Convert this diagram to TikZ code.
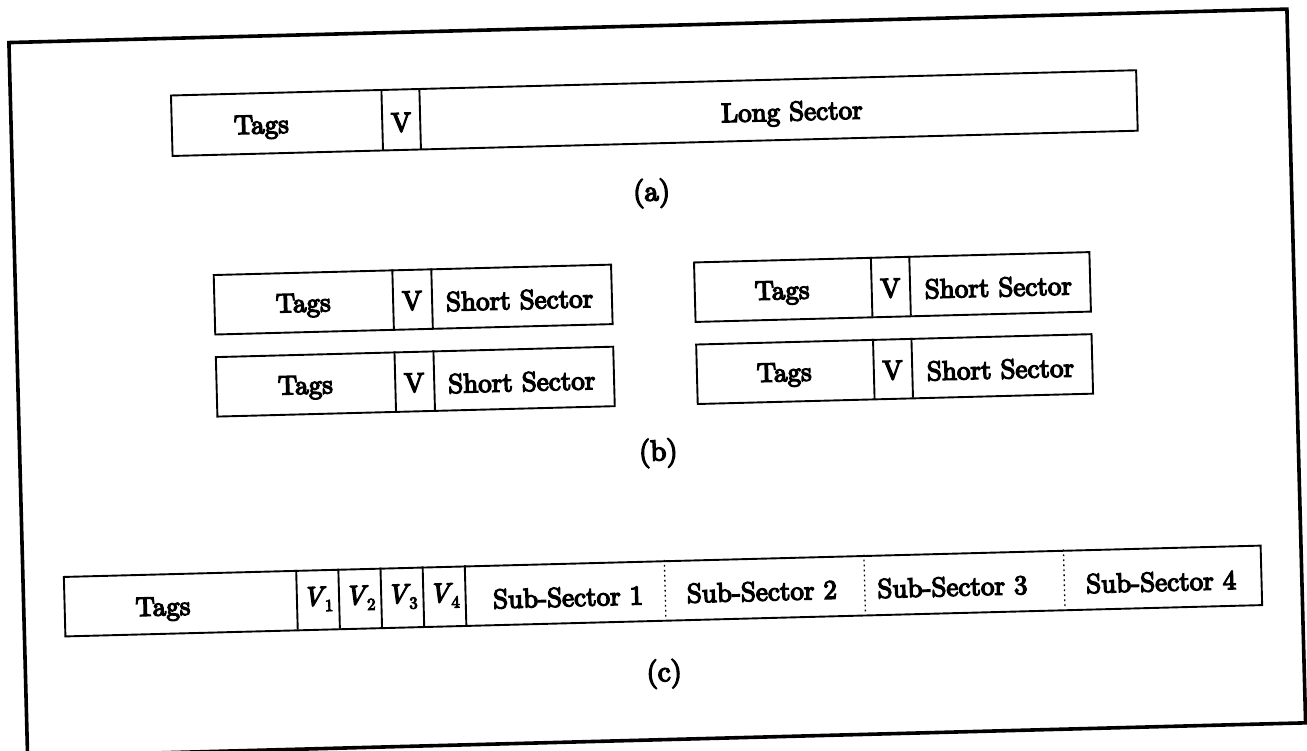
\documentclass[tikz,border=0pt]{standalone}
\usepackage{fontspec}
\setmainfont{lmroman10-regular.otf}[FakeBold=5,ItalicFont=lmroman10-italic.otf,ItalicFeatures={FakeBold=5}]
\newcommand{\vsub}[1]{\textit{V}\kern-1.5pt\raisebox{-6pt}{\fontsize{17}{20}\selectfont #1}}
\tikzset{
  outerframe/.style={draw, line width=3.6pt, inner sep=0pt, anchor=north west},
  cellbox/.style={draw, line width=1.9pt, inner sep=0pt, anchor=north west},
  cellvoid/.style={inner sep=0pt, anchor=north west},
  divider/.style={line width=1.9pt},
  subline/.style={line width=1.3pt, dash pattern=on 1.6pt off 3.4pt},
  txt/.style={inner sep=0pt, font=\fontsize{27}{32}\selectfont},
  capt/.style={inner sep=0pt, font=\fontsize{29}{34}\selectfont},
}
\begin{document}
\begin{tikzpicture}[x=1pt,y=-1pt]
\useasboundingbox (0,0) rectangle (1307,750);
\clip (0,0) rectangle (1307,750);
\begin{scope}[rotate around={1.5:(653.5,375)}, transform shape]
% frame
\node[outerframe, minimum width=1278.5pt, minimum height=714pt] (frame) at (16,24) {};

% ---------- (a)
\node[cellbox, minimum width=965.5pt, minimum height=60.5pt] (boxA) at (177.5,82) {};
\node[cellvoid, minimum width=211.1pt, minimum height=60.5pt] (tagsA) at (boxA.north west) {};
\node[cellvoid, minimum width=37.6pt, minimum height=60.5pt] (vA) at (tagsA.north east) {};
\draw[divider] (tagsA.north east) -- (tagsA.south east);
\draw[divider] (vA.north east) -- (vA.south east);
\node[txt] (tagsAt) at (268,117) {Tags};
\node[txt] (vAt) at (407.8,116) {V};
\node[txt] (longAt) at (798.8,117.4) {Long Sector};
\node[capt] (capA) at (656.4,193.4) {(a)};

% ---------- (b) left top
\node[cellbox, minimum width=397.5pt, minimum height=59.5pt] (boxB1) at (215.5,262.6) {};
\node[cellvoid, minimum width=179.3pt, minimum height=59.5pt] (tagsB1) at (boxB1.north west) {};
\node[cellvoid, minimum width=38.6pt, minimum height=59.5pt] (vB1) at (tagsB1.north east) {};
\draw[divider] (tagsB1.north east) -- (tagsB1.south east);
\draw[divider] (vB1.north east) -- (vB1.south east);
\node[txt] (tagsB1t) at (305.2,296.4) {Tags};
\node[txt] (vB1t) at (414.1,294.5) {V};
\node[txt] (ssB1t) at (521.6,296.3) {Short Sector};

% ---------- (b) left bottom
\node[cellbox, minimum width=397.5pt, minimum height=59.5pt] (boxB2) at (215.5,344.7) {};
\node[cellvoid, minimum width=179.3pt, minimum height=59.5pt] (tagsB2) at (boxB2.north west) {};
\node[cellvoid, minimum width=38.6pt, minimum height=59.5pt] (vB2) at (tagsB2.north east) {};
\draw[divider] (tagsB2.north east) -- (tagsB2.south east);
\draw[divider] (vB2.north east) -- (vB2.south east);
\node[txt] (tagsB2t) at (305.2,378.5) {Tags};
\node[txt] (vB2t) at (414.1,376.6) {V};
\node[txt] (ssB2t) at (521.6,378.4) {Short Sector};

% ---------- (b) right top
\node[cellbox, minimum width=395.5pt, minimum height=59.5pt] (boxB3) at (696,262.6) {};
\node[cellvoid, minimum width=177.6pt, minimum height=59.5pt] (tagsB3) at (boxB3.north west) {};
\node[cellvoid, minimum width=38.1pt, minimum height=59.5pt] (vB3) at (tagsB3.north east) {};
\draw[divider] (tagsB3.north east) -- (tagsB3.south east);
\draw[divider] (vB3.north east) -- (vB3.south east);
\node[txt] (tagsB3t) at (784.2,296.3) {Tags};
\node[txt] (vB3t) at (892.6,294.5) {V};
\node[txt] (ssB3t) at (1000.5,296.2) {Short Sector};

% ---------- (b) right bottom
\node[cellbox, minimum width=395.5pt, minimum height=59.5pt] (boxB4) at (696,344.7) {};
\node[cellvoid, minimum width=177.6pt, minimum height=59.5pt] (tagsB4) at (boxB4.north west) {};
\node[cellvoid, minimum width=38.1pt, minimum height=59.5pt] (vB4) at (tagsB4.north east) {};
\draw[divider] (tagsB4.north east) -- (tagsB4.south east);
\draw[divider] (vB4.north east) -- (vB4.south east);
\node[txt] (tagsB4t) at (784.2,378.4) {Tags};
\node[txt] (vB4t) at (892.6,376.6) {V};
\node[txt] (ssB4t) at (1000.5,378.3) {Short Sector};

\node[capt] (capB) at (656.3,453.3) {(b)};

% ---------- (c)
\node[cellbox, minimum width=1197.2pt, minimum height=59.5pt] (boxC) at (57.8,560.5) {};
\node[cellvoid, minimum width=233pt, minimum height=59.5pt] (tagsC) at (boxC.north west) {};
\node[cellvoid, minimum width=41.8pt, minimum height=59.5pt] (v1C) at (tagsC.north east) {};
\node[cellvoid, minimum width=41.8pt, minimum height=59.5pt] (v2C) at (v1C.north east) {};
\node[cellvoid, minimum width=41.8pt, minimum height=59.5pt] (v3C) at (v2C.north east) {};
\node[cellvoid, minimum width=41.8pt, minimum height=59.5pt] (v4C) at (v3C.north east) {};
\node[cellvoid, minimum width=199.3pt, minimum height=59.5pt] (s1C) at (v4C.north east) {};
\node[cellvoid, minimum width=199.3pt, minimum height=59.5pt] (s2C) at (s1C.north east) {};
\node[cellvoid, minimum width=199.3pt, minimum height=59.5pt] (s3C) at (s2C.north east) {};
\foreach \c in {tagsC,v1C,v2C,v3C,v4C}{
  \draw[divider] (\c.north east) -- (\c.south east);
}
\foreach \c in {s1C,s2C,s3C}{
  \draw[subline] (\c.north east) -- (\c.south east);
}
\node[txt] (tagsCt) at (157,596.2) {Tags};
\node[txt] (v1Ct) at (v1C.center) {\vsub{1}};
\node[txt] (v2Ct) at (v2C.center) {\vsub{2}};
\node[txt] (v3Ct) at (v3C.center) {\vsub{3}};
\node[txt] (v4Ct) at (v4C.center) {\vsub{4}};
\node[txt] (s1Ct) at (562.3,594.8) {Sub-Sector 1};
\node[txt] (s2Ct) at (756.2,594.2) {Sub-Sector 2};
\node[txt] (s3Ct) at (946.8,594.4) {Sub-Sector 3};
\node[txt] (s4Ct) at (1155.6,595) {Sub-Sector 4};
\node[capt] (capC) at (656.4,674.1) {(c)};
\end{scope}
\end{tikzpicture}
\end{document}
